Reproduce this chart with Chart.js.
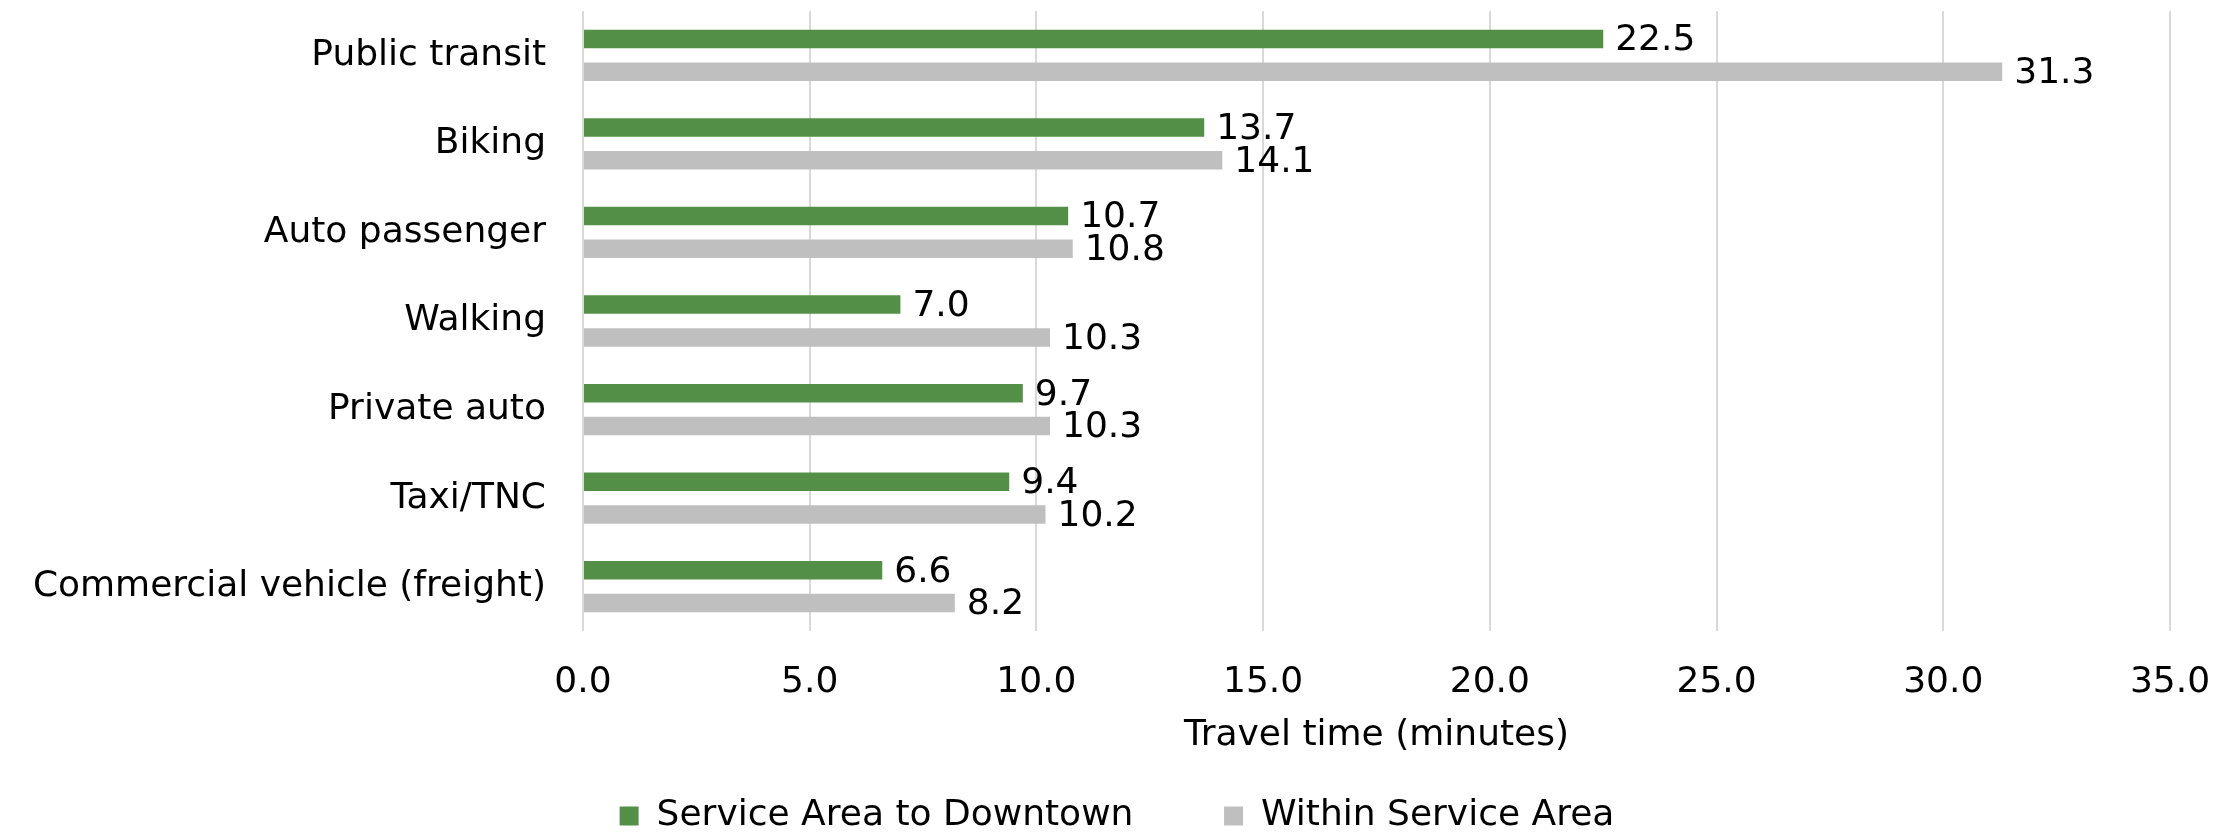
<!DOCTYPE html>
<html>
<head>
<meta charset="utf-8">
<script src="https://cdn.jsdelivr.net/npm/chart.js@4.4.1/dist/chart.umd.min.js"></script>
<style>
  html, body { margin: 0; padding: 0; background: #fff; }
  #wrap { width: 2234px; height: 836px; position: relative; }
</style>
</head>
<body>
<div id="wrap"><canvas id="travelChart"></canvas></div>
<script>
// ===== DATA =====
const categories = ['Public transit', 'Biking', 'Auto passenger', 'Walking', 'Private auto', 'Taxi/TNC', 'Commercial vehicle (freight)'];
const toDowntown = [22.5, 13.7, 10.7, 7.0, 9.7, 9.4, 6.6];
const withinArea = [31.3, 14.1, 10.8, 10.3, 10.3, 10.2, 8.2];
const seriesNames = ['Service Area to Downtown', 'Within Service Area'];
const xTicks = [0, 5, 10, 15, 20, 25, 30, 35];
const axisTitle = 'Travel time (minutes)';

const FONT = "'DejaVu Sans', 'Noto Sans', sans-serif";
const FS = 36;

// value labels at the end of each bar
const barLabels = {
    id: 'barLabels',
    afterDatasetsDraw(chart) {
        const ctx = chart.ctx;
        ctx.save();
        ctx.font = FS + 'px ' + FONT;
        ctx.fillStyle = '#000';
        ctx.textAlign = 'left';
        ctx.textBaseline = 'middle';
        chart.data.datasets.forEach((ds, i) => {
            chart.getDatasetMeta(i).data.forEach((bar, j) => {
                ctx.fillText(ds.data[j].toFixed(1), bar.x + 12, bar.y + 2);
            });
        });
        ctx.restore();
    }
};

new Chart(document.getElementById('travelChart'), {
    type: 'bar',
    data: {
        labels: categories,
        datasets: [
            { label: seriesNames[0], data: toDowntown, backgroundColor: '#538F46', categoryPercentage: 0.74, barPercentage: 0.565 },
            { label: seriesNames[1], data: withinArea, backgroundColor: '#BFBFBF', categoryPercentage: 0.74, barPercentage: 0.565 }
        ]
    },
    options: {
        indexAxis: 'y',
        responsive: true,
        maintainAspectRatio: false,
        animation: false,
        layout: { padding: { top: 11, right: 0, left: 0, bottom: 0 } },
        plugins: {
            tooltip: { enabled: false },
            legend: {
                position: 'bottom',
                maxHeight: 60,
                labels: {
                    font: { family: FONT, size: FS },
                    color: '#000',
                    boxWidth: 19,
                    boxHeight: 19,
                    padding: 22,
                    generateLabels: (chart) => {
                        const items = Chart.defaults.plugins.legend.labels.generateLabels(chart);
                        items[0].text += '      ';
                        return items;
                    }
                }
            }
        },
        scales: {
            x: {
                min: 0,
                max: 35,
                afterBuildTicks: (s) => { s.ticks = xTicks.map(v => ({ value: v })); },
                ticks: {
                    callback: (v) => Number(v).toFixed(1),
                    font: { family: FONT, size: FS },
                    color: '#000',
                    padding: 30
                },
                grid: { color: '#D9D9D9', lineWidth: 2, drawTicks: false },
                border: { display: false },
                title: {
                    display: true,
                    text: axisTitle,
                    font: { family: FONT, size: FS },
                    color: '#000',
                    padding: { top: 0, bottom: 19 }
                },
                afterFit: (s) => { s.height = 145; s.paddingRight = 64; }
            },
            y: {
                grid: { display: false, drawTicks: false },
                border: { display: false },
                ticks: {
                    font: { family: FONT, size: FS },
                    color: '#000',
                    padding: 37
                },
                afterFit: (s) => { s.width = 583; s.paddingTop = 0; s.paddingBottom = 0; }
            }
        }
    },
    plugins: [barLabels]
});
</script>
</body>
</html>
